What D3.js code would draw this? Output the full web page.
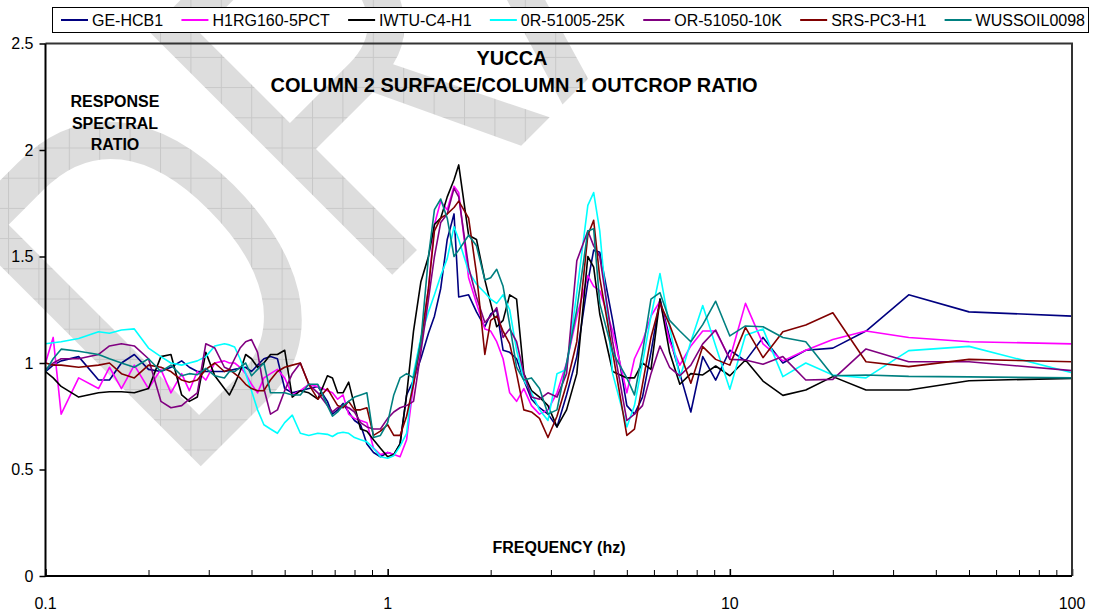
<!DOCTYPE html>
<html>
<head>
<meta charset="utf-8">
<script src="https://cdn.jsdelivr.net/npm/d3@7"></script>
<style>
  html, body { margin: 0; padding: 0; background: #fff; }
  svg { display: block; font-family: "Liberation Sans", Arial, sans-serif; }
</style>
</head>
<body>
<svg id="chart" width="1094" height="613"></svg>
<script>
// Frequencies (Hz) shared by all spectral-ratio series
const frequencies = [0.1,0.1053,0.1111,0.125,0.1429,0.1538,0.1667,0.1818,0.2,0.2174,
  0.2326,0.25,0.2632,0.2778,0.2941,0.3125,0.3333,0.3448,0.3571,0.3704,
  0.3846,0.4,0.4167,0.4348,0.4545,0.4762,0.5,0.5263,0.5556,0.5882,
  0.625,0.6667,0.6897,0.7143,0.7407,0.7692,0.8,0.8333,0.8696,0.9091,
  0.9524,1,1.042,1.087,1.136,1.19,1.25,1.316,1.37,1.429,
  1.493,1.563,1.613,1.724,1.818,1.923,2,2.083,2.174,2.273,
  2.381,2.5,2.632,2.778,2.941,3.125,3.333,3.571,3.846,4,
  4.167,4.545,5,5.263,5.556,5.882,6.25,6.667,7.143,7.692,
  8.333,9.091,10,11.11,12.5,14.29,16.67,20,25,33.33,50,100];

const geHcb1 = [0.96,0.99,1.01,1.03,0.92,0.92,1.0,1.04,0.97,0.96,
  0.98,1.01,0.98,0.96,0.96,0.96,0.96,0.965,0.97,0.975,
  0.98,0.96,0.99,1.02,1.03,1.02,0.88,0.86,0.87,0.88,
  0.89,0.82,0.76,0.78,0.81,0.77,0.73,0.71,0.62,0.58,
  0.56,0.58,0.57,0.62,0.85,0.92,1.02,1.14,1.22,1.35,
  1.58,1.70,1.31,1.32,1.24,1.17,1.23,1.25,1.06,1.05,
  1.02,0.92,0.83,0.79,0.76,0.70,0.85,1.03,1.38,1.53,
  1.52,1.20,0.80,0.76,0.84,1.05,1.30,1.12,0.95,0.77,
  1.03,0.92,1.06,1.01,1.12,1.00,1.06,1.07,1.15,1.32,1.24,1.22];

const h1rg1605pct = [1.0,1.12,0.76,0.93,0.88,0.98,0.88,0.99,0.88,0.97,
  0.86,0.95,0.87,0.96,0.92,1.0,1.01,1.0,1.0,0.98,
  0.95,0.90,0.86,0.93,0.95,0.97,0.93,0.85,0.87,0.90,
  0.89,0.87,0.86,0.83,0.85,0.76,0.74,0.73,0.72,0.60,
  0.57,0.58,0.57,0.56,0.64,0.90,1.08,1.35,1.65,1.76,
  1.72,1.83,1.80,1.40,1.28,1.16,1.15,1.10,1.02,0.86,
  0.82,0.88,0.80,0.76,0.78,0.86,1.0,1.22,1.41,1.36,
  1.34,1.15,0.86,1.02,1.10,1.22,1.29,1.10,0.99,1.08,
  1.15,1.15,1.02,1.28,1.09,1.01,1.06,1.11,1.15,1.12,1.10,1.09];

const iwtuC4H1 = [0.96,0.93,0.89,0.84,0.86,0.865,0.865,0.86,0.88,1.03,
  1.04,0.85,0.82,0.84,1.05,0.94,0.88,0.85,0.90,0.96,
  1.04,1.02,0.98,1.0,1.04,1.04,1.06,0.84,0.87,0.86,
  0.83,0.94,0.93,0.86,0.86,0.91,0.80,0.69,0.68,0.64,
  0.60,0.56,0.57,0.62,0.85,1.15,1.38,1.50,1.65,1.68,
  1.78,1.86,1.93,1.60,1.58,1.39,1.28,1.17,1.20,1.32,
  1.30,0.95,0.87,0.84,0.80,0.70,0.78,0.95,1.50,1.45,
  1.23,0.96,0.93,0.93,1.0,0.97,1.30,1.05,0.90,0.95,
  0.944,0.986,0.94,1.014,0.915,0.848,0.873,0.936,0.873,0.873,0.917,0.928];

const or5100525k = [1.09,1.095,1.10,1.115,1.147,1.14,1.155,1.16,1.07,1.03,
  1.0,0.99,1.0,1.01,1.03,1.08,1.09,1.085,1.075,1.02,
  0.95,0.87,0.78,0.71,0.69,0.67,0.72,0.755,0.67,0.66,
  0.67,0.665,0.655,0.67,0.675,0.67,0.65,0.64,0.63,0.60,
  0.56,0.553,0.565,0.61,0.67,0.95,1.12,1.24,1.32,1.41,
  1.49,1.64,1.58,1.43,1.37,1.33,1.30,1.28,1.32,1.25,
  1.06,0.92,0.86,0.78,0.73,0.95,0.97,1.33,1.74,1.80,
  1.62,0.95,0.70,0.80,1.0,1.22,1.42,1.17,0.93,1.10,
  1.27,1.08,0.877,1.13,1.16,0.936,1.0,0.944,0.93,1.058,1.078,0.954];

const or5105010k = [0.97,1.0,1.02,1.02,1.04,1.08,1.09,1.08,1.02,0.82,
  0.79,0.80,0.83,0.86,1.09,1.07,0.98,0.97,1.02,1.07,
  1.10,1.11,1.05,0.88,0.76,0.78,0.87,0.95,1.0,0.90,
  0.86,0.80,0.77,0.79,0.80,0.79,0.77,0.72,0.70,0.69,
  0.69,0.74,0.77,0.79,0.80,0.82,1.05,1.30,1.50,1.66,
  1.70,1.82,1.78,1.45,1.31,1.19,1.22,1.26,1.12,1.16,
  1.10,0.95,0.84,0.83,0.86,0.84,0.95,1.48,1.62,1.55,
  1.50,1.10,0.73,0.76,0.80,0.95,1.08,0.98,0.94,0.99,
  1.09,1.155,1.017,1.014,0.994,1.03,0.92,0.923,1.066,1.006,1.006,0.964];

const srsPc3H1 = [1.0,0.99,0.99,0.98,0.99,1.0,0.95,0.93,0.99,0.98,
  0.96,0.92,0.91,0.92,0.97,1.0,0.96,0.97,0.95,0.93,
  0.90,0.88,0.87,0.87,0.92,0.96,0.98,0.99,1.0,0.90,
  0.83,0.88,0.84,0.80,0.79,0.82,0.78,0.78,0.79,0.66,
  0.68,0.71,0.66,0.66,0.75,0.90,1.10,1.35,1.62,1.68,
  1.70,1.73,1.76,1.68,1.42,1.04,1.20,1.22,1.15,1.09,
  0.95,0.78,0.77,0.74,0.65,0.75,0.90,1.10,1.60,1.67,
  1.40,1.05,0.66,0.69,0.90,1.12,1.28,1.18,1.05,0.905,
  1.077,1.017,0.99,1.167,1.025,1.147,1.178,1.236,1.006,0.983,1.017,1.006];

const wussoil0098 = [0.96,1.02,1.065,1.055,1.04,1.02,1.0,0.98,1.02,0.96,
  0.99,0.94,0.95,0.945,0.975,0.94,0.93,0.96,0.96,0.98,
  1.0,0.94,0.97,1.0,0.86,0.86,0.86,0.85,0.85,0.90,
  0.90,0.80,0.75,0.77,0.80,0.82,0.84,0.85,0.86,0.65,
  0.66,0.72,0.85,0.93,0.95,0.93,1.10,1.50,1.72,1.77,
  1.68,1.50,1.53,1.60,1.55,1.39,1.40,1.44,1.36,1.18,
  0.98,0.92,0.93,0.88,0.76,0.78,1.00,1.25,1.62,1.63,
  1.28,1.05,0.93,0.85,1.05,1.30,1.33,1.20,1.15,1.10,
  1.18,1.29,1.127,1.174,1.17,1.12,1.10,0.94,0.944,0.937,0.935,0.93];

const seriesNames = ["GE-HCB1","H1RG160-5PCT","IWTU-C4-H1","0R-51005-25K","OR-51050-10K","SRS-PC3-H1","WUSSOIL0098"];
const seriesValues = [geHcb1, h1rg1605pct, iwtuC4H1, or5100525k, or5105010k, srsPc3H1, wussoil0098];
const seriesColors = ["#000080","#ff00ff","#000000","#00ffff","#800080","#800000","#008080"];

const yTicks = [0, 0.5, 1, 1.5, 2, 2.5];
const xLabelTicks = [0.1, 1, 10, 100];
const titleLines = ["YUCCA", "COLUMN 2 SURFACE/COLUMN 1 OUTCROP RATIO"];
const yTitleLines = ["RESPONSE", "SPECTRAL", "RATIO"];
const xTitle = "FREQUENCY (hz)";
const watermarkText = "DRAFT";

// ---- layout ----
const W = 1094, H = 613;
const plot = { left: 45.5, right: 1072, top: 43.5, bottom: 576 };

const svg = d3.select("#chart");
const x = d3.scaleLog().domain([0.1, 100]).range([plot.left, plot.right]);
const y = d3.scaleLinear().domain([0, 2.5]).range([plot.bottom, plot.top]);

// ---- watermark: rotated condensed letters filled with a light grid ----
const defs = svg.append("defs");
const pat = defs.append("pattern")
  .attr("id", "wmGrid").attr("patternUnits", "userSpaceOnUse")
  .attr("x", 8).attr("y", -3.5).attr("width", 30.4).attr("height", 30.2);
pat.append("rect").attr("width", 30.4).attr("height", 30.2).attr("fill", "#dddddd");
pat.append("path").attr("d", "M0.5,0V30.2M0,0.5H30.4")
  .attr("stroke", "#c8c8c8").attr("stroke-width", 1).attr("fill", "none");
const clip = defs.append("clipPath").attr("id", "wmClip");
clip.append("text")
  .attr("transform", "translate(179,488) rotate(-45) scale(0.75,1)")
  .attr("font-family", "Liberation Sans, Arial, sans-serif")
  .attr("font-size", 500)
  .text(watermarkText);
svg.append("rect").attr("width", W).attr("height", H)
  .attr("fill", "url(#wmGrid)").attr("clip-path", "url(#wmClip)");

// ---- axes ----
const yAxis = d3.axisLeft(y).tickValues(yTicks).tickSize(6).tickPadding(6)
  .tickFormat(d3.format("~g"));
const gy = svg.append("g").attr("transform", `translate(${plot.left},0)`).call(yAxis);
gy.select(".domain").remove();
gy.selectAll(".tick line").attr("stroke", "#000").attr("stroke-width", 1.5);
gy.selectAll(".tick text").attr("font-size", 16).attr("fill", "#000")
  .attr("font-family", "Liberation Sans, Arial, sans-serif");

const minorTicks = [];
[0.1, 1, 10].forEach(d => { for (let k = 1; k < 10; k++) minorTicks.push(d * k); });
minorTicks.push(100);
const xAxis = d3.axisBottom(x).tickValues(minorTicks).tickSizeInner(-6).tickSizeOuter(0)
  .tickFormat("");
const gx = svg.append("g").attr("transform", `translate(0,${plot.bottom})`).call(xAxis);
gx.select(".domain").remove();
gx.selectAll(".tick line").attr("stroke", "#000").attr("stroke-width", 1)
  .filter(d => xLabelTicks.includes(d)).attr("stroke-width", 1.6).attr("y2", -7);

svg.append("g").selectAll("text").data(xLabelTicks).join("text")
  .attr("x", d => x(d)).attr("y", 603).attr("dy", "0.35em")
  .attr("text-anchor", "middle").attr("font-size", 16)
  .text(d => d3.format("~g")(d));

// ---- series ----
const line = d3.line().x(d => x(d[0])).y(d => y(d[1]));
const gLines = svg.append("g");
seriesValues.forEach((vals, i) => {
  gLines.append("path")
    .datum(frequencies.map((f, j) => [f, vals[j]]))
    .attr("fill", "none").attr("stroke", seriesColors[i])
    .attr("stroke-width", 1.6).attr("stroke-linejoin", "round")
    .attr("d", line);
});

// ---- frame ----
svg.append("path")
  .attr("d", `M${plot.left},${plot.top}H${plot.right}V${plot.bottom}`)
  .attr("fill", "none").attr("stroke", "#333").attr("stroke-width", 2);
svg.append("path")
  .attr("d", `M${plot.left},${plot.top}V${plot.bottom}H${plot.right}`)
  .attr("fill", "none").attr("stroke", "#000").attr("stroke-width", 2);

// ---- titles ----
svg.append("g").selectAll("text").data(titleLines).join("text")
  .attr("x", (d, i) => i ? 514 : 512).attr("y", (d, i) => 65 + i * 27)
  .attr("text-anchor", "middle").attr("font-weight", "bold").attr("font-size", 20)
  .text(d => d);
svg.append("g").selectAll("text").data(yTitleLines).join("text")
  .attr("x", 115).attr("y", (d, i) => 107 + i * 21.5)
  .attr("text-anchor", "middle").attr("font-weight", "bold").attr("font-size", 16)
  .text(d => d);
svg.append("text").attr("x", 559).attr("y", 553)
  .attr("text-anchor", "middle").attr("font-weight", "bold").attr("font-size", 16)
  .text(xTitle);

// ---- legend ----
const lg = svg.append("g");
lg.append("rect").attr("x", 52.5).attr("y", 7.5).attr("width", 1036).attr("height", 25)
  .attr("fill", "#fff").attr("stroke", "#000").attr("stroke-width", 1);
const items = seriesNames.map((name, i) => {
  const g = lg.append("g");
  g.append("line").attr("x1", 0).attr("x2", 27).attr("y1", 20).attr("y2", 20)
    .attr("stroke", seriesColors[i]).attr("stroke-width", 2);
  const t = g.append("text").attr("x", 31).attr("y", 20).attr("dy", "0.35em")
    .attr("font-size", 16).text(name);
  return { g, w: 31 + t.node().getComputedTextLength() };
});
const startX = 61, endX = 1085;
const totalW = d3.sum(items, d => d.w);
const gap = (endX - startX - totalW) / (items.length - 1);
let cx = startX;
items.forEach(it => { it.g.attr("transform", `translate(${cx},0)`); cx += it.w + gap; });
</script>
</body>
</html>
